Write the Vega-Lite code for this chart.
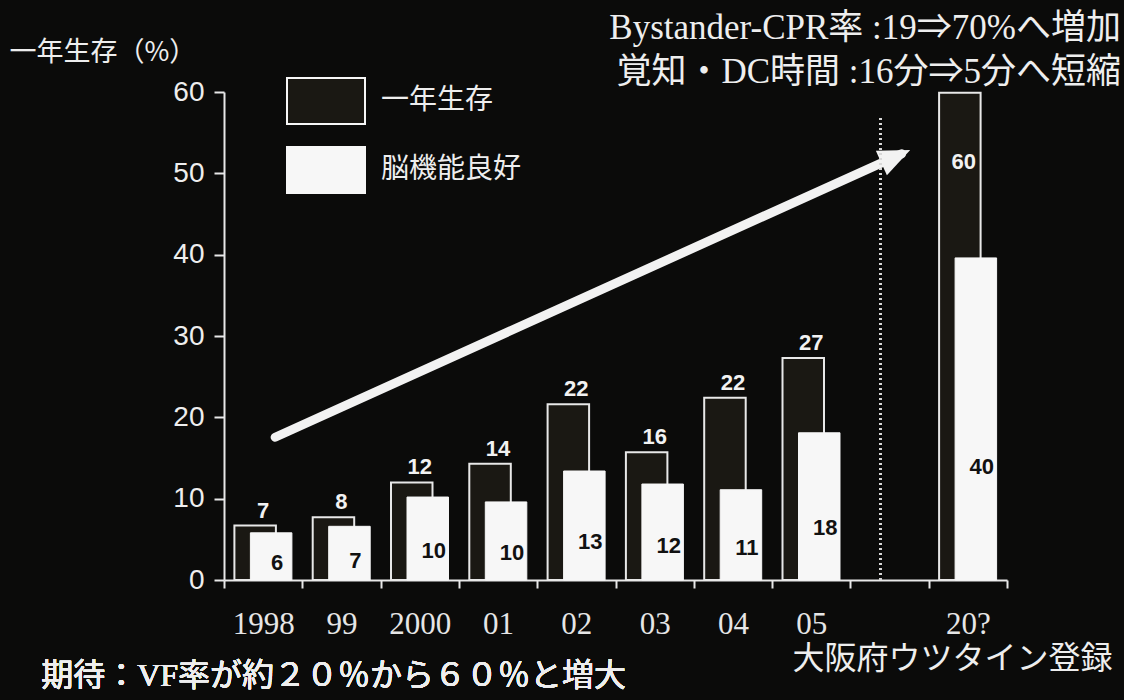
{
  "$schema": "https://vega.github.io/schema/vega-lite/v6.json",
  "width": 783,
  "height": 488,
  "autosize": {"type": "none"},
  "padding": {"left": 224, "top": 92, "right": 117, "bottom": 120},
  "background": "#0b0b0a",
  "config": {"view": {"stroke": null}},
  "title": {
    "text": ["Bystander-CPR率 :19⇒70%へ増加", "覚知・DC時間 :16分⇒5分へ短縮"],
    "anchor": "end",
    "frame": "group",
    "font": "Liberation Serif, Noto Sans CJK JP",
    "fontSize": 35,
    "fontWeight": "normal",
    "color": "#eeeeee",
    "lineHeight": 44,
    "dx": 114,
    "dy": 56
  },
  "data": {
    "values": [
      {"year": "1998", "survival": 6.7, "brain": 5.8},
      {"year": "99", "survival": 7.7, "brain": 6.6},
      {"year": "2000", "survival": 12.0, "brain": 10.2},
      {"year": "01", "survival": 14.3, "brain": 9.6},
      {"year": "02", "survival": 21.6, "brain": 13.4},
      {"year": "03", "survival": 15.7, "brain": 11.8},
      {"year": "04", "survival": 22.4, "brain": 11.1},
      {"year": "05", "survival": 27.3, "brain": 18.1},
      {"year": "20?", "survival": 59.9, "brain": 39.6}
    ]
  },
  "layer": [
    {
      "layer": [
        {
          "mark": {"type": "bar", "width": {"band": 0.53}, "xOffset": -8, "stroke": "#e8e8e8", "strokeWidth": 2},
          "encoding": {
            "x": {
              "field": "year", "type": "nominal", "sort": null,
              "title": "大阪府ウツタイン登録",
              "scale": {"domain": ["1998", "99", "2000", "01", "02", "03", "04", "05", " ", "20?"], "paddingInner": 0, "paddingOuter": 0},
              "axis": {
                "domainColor": "#e8e8e8", "domainWidth": 2,
                "tickColor": "#e8e8e8", "tickWidth": 2, "tickSize": 8, "tickBand": "extent",
                "labelAngle": 0, "labelFont": "Liberation Serif", "labelFontSize": 31, "labelColor": "#e6e6e6", "labelPadding": 21,
                "titleFont": "Noto Sans CJK JP", "titleFontSize": 32, "titleFontWeight": "normal", "titleColor": "#eeeeee",
                "titleX": 568, "titleY": 78, "titleAlign": "left", "titleBaseline": "middle"
              }
            },
            "y": {
              "field": "survival", "type": "quantitative",
              "title": "一年生存（%）",
              "scale": {"domain": [0, 60], "nice": false},
              "axis": {
                "values": [0, 10, 20, 30, 40, 50, 60],
                "domainColor": "#e8e8e8", "domainWidth": 2,
                "tickColor": "#e8e8e8", "tickWidth": 2, "tickSize": 10,
                "labelFont": "Liberation Sans", "labelFontSize": 28, "labelColor": "#eeeeee", "labelPadding": 10, "labelFlush": false,
                "grid": false,
                "titleAngle": 0, "titleX": -215, "titleY": -40, "titleAlign": "left", "titleBaseline": "middle",
                "titleFont": "Noto Sans CJK JP", "titleFontSize": 27, "titleFontWeight": "normal", "titleColor": "#eeeeee"
              }
            },
            "fill": {
              "datum": "一年生存", "type": "nominal",
              "scale": {"domain": ["一年生存", "脳機能良好"], "range": ["#1a1813", "#f7f7f7"]},
              "legend": {
                "orient": "none", "legendX": 62, "legendY": -31, "title": null, "padding": 0,
                "symbolType": "M-1,-0.59H1V0.59H-1Z", "symbolSize": 6084,
                "symbolStrokeColor": "#e8e8e8", "symbolStrokeWidth": 2, "symbolOpacity": 1,
                "labelFont": "Noto Sans CJK JP", "labelFontSize": 28, "labelColor": "#eeeeee",
                "labelOffset": 15, "rowPadding": 1, "labelLimit": 300
              }
            }
          }
        },
        {
          "mark": {"type": "bar", "width": {"band": 0.53}, "xOffset": 8, "stroke": "#f7f7f7", "strokeWidth": 1},
          "encoding": {
            "x": {"field": "year", "type": "nominal", "sort": null, "title": "大阪府ウツタイン登録"},
            "y": {"field": "brain", "type": "quantitative", "title": "一年生存（%）"},
            "fill": {"datum": "脳機能良好", "type": "nominal"}
          }
        },
        {
          "transform": [{"filter": "datum.year !== '20?'"}],
          "mark": {"type": "text", "baseline": "alphabetic", "dy": -8, "font": "Liberation Sans", "fontWeight": "bold", "fontSize": 22, "color": "#f2f2f2"},
          "encoding": {
            "x": {"field": "year", "type": "nominal", "sort": null, "title": "大阪府ウツタイン登録"},
            "y": {"field": "survival", "type": "quantitative", "title": "一年生存（%）"},
            "text": {"field": "survival", "type": "quantitative", "format": ".0f"}
          }
        },
        {
          "transform": [{"filter": "datum.year === '20?'"}],
          "mark": {"type": "text", "baseline": "middle", "dy": 69, "xOffset": -4, "font": "Liberation Sans", "fontWeight": "bold", "fontSize": 22, "color": "#f2f2f2"},
          "encoding": {
            "x": {"field": "year", "type": "nominal", "sort": null, "title": "大阪府ウツタイン登録"},
            "y": {"field": "survival", "type": "quantitative", "title": "一年生存（%）"},
            "text": {"field": "survival", "type": "quantitative", "format": ".0f"}
          }
        },
        {
          "data": {"values": [{"pos": "1998", "level": 17.55}, {"pos": " ", "level": 52.4}]},
          "mark": {"type": "line", "color": "#f2f2f2", "strokeWidth": 9, "strokeCap": "round", "xOffset": 12},
          "encoding": {
            "x": {"field": "pos", "type": "nominal", "sort": null, "title": "大阪府ウツタイン登録"},
            "y": {"field": "level", "type": "quantitative", "title": "一年生存（%）"}
          }
        },
        {
          "data": {"values": [{"pos": " ", "level": 52.4}]},
          "mark": {"type": "point", "shape": "M-1.4,-0.85L0.6,0L-1.4,0.85Z", "size": 1000, "angle": 335.7, "filled": true, "color": "#f2f2f2", "opacity": 1, "xOffset": 12},
          "encoding": {
            "x": {"field": "pos", "type": "nominal", "sort": null, "title": "大阪府ウツタイン登録"},
            "y": {"field": "level", "type": "quantitative", "title": "一年生存（%）"}
          }
        },
        {
          "mark": {"type": "rule", "color": "#d8d8d8", "strokeWidth": 2, "strokeDash": [2, 3], "xOffset": -9},
          "encoding": {
            "x": {"datum": " ", "type": "nominal"},
            "y": {"datum": 0, "type": "quantitative"},
            "y2": {"datum": 57}
          }
        },
        {
          "mark": {"type": "text", "text": "期待：VF率が約２０％から６０％と増大", "align": "left", "baseline": "middle", "dx": -222, "font": "Liberation Serif, Noto Sans CJK JP", "fontSize": 32, "color": "#eeeeee"},
          "encoding": {
            "x": {"datum": "1998", "type": "nominal"},
            "y": {"datum": -11.8, "type": "quantitative"}
          }
        }
      ]
    },
    {
      "mark": {"type": "text", "baseline": "middle", "xOffset": 14, "font": "Liberation Sans", "fontWeight": "bold", "fontSize": 22, "color": "#111111"},
      "encoding": {
        "x": {"field": "year", "type": "nominal", "sort": null, "title": "大阪府ウツタイン登録"},
        "y": {"field": "brain", "type": "quantitative", "scale": {"domain": [0, 171.4], "nice": false}, "axis": null},
        "text": {"field": "brain", "type": "quantitative", "format": ".0f"}
      }
    }
  ],
  "resolve": {"scale": {"y": "independent"}}
}
